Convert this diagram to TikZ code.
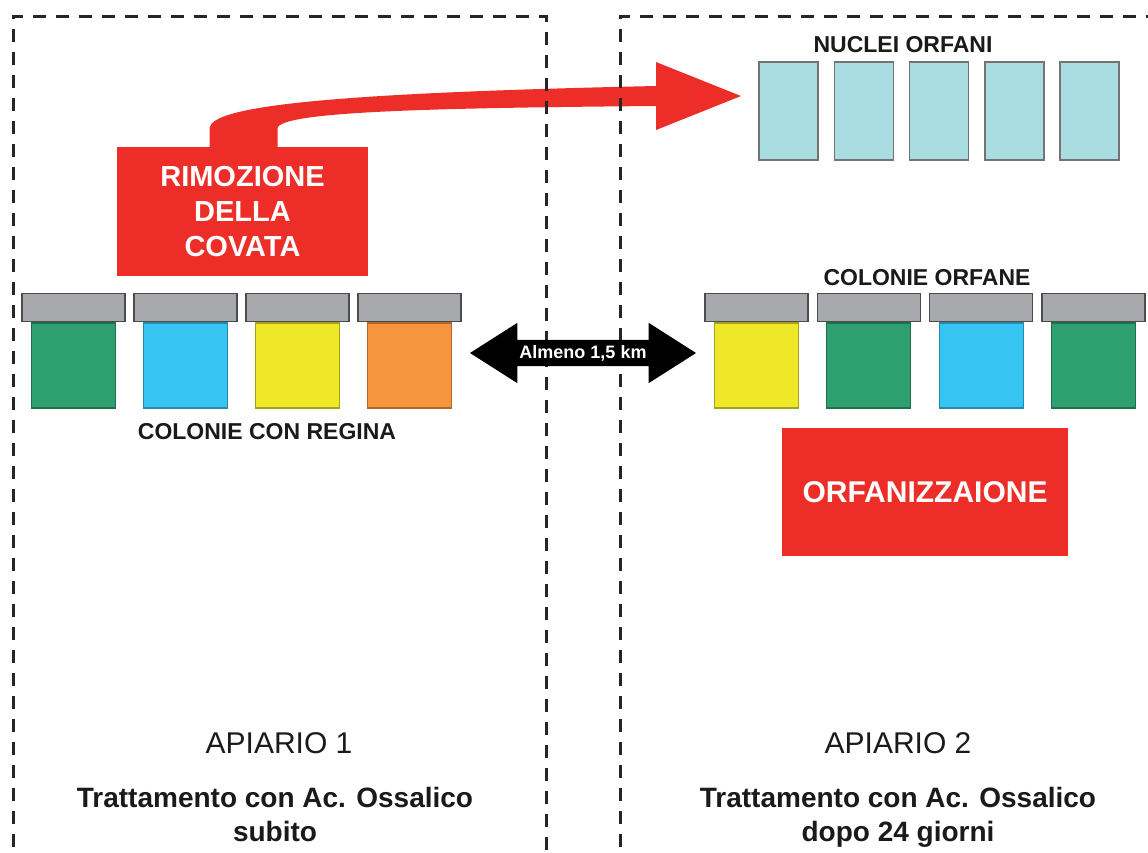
\documentclass[tikz,border=0pt]{standalone}
\usepackage{fontspec}
\setmainfont{Liberation Sans}
\usepackage{tikz}
\usetikzlibrary{positioning,shapes.arrows}
\definecolor{rosso}{RGB}{237,46,40}
\definecolor{verde}{RGB}{46,160,112}
\definecolor{azzurro}{RGB}{56,196,242}
\definecolor{giallo}{RGB}{238,232,40}
\definecolor{arancio}{RGB}{247,148,62}
\definecolor{ciano}{RGB}{170,221,226}
\definecolor{grigio}{RGB}{167,169,172}
\definecolor{testo}{RGB}{26,26,26}

\begin{document}
\begin{tikzpicture}[x=1pt, y=-1pt,
  every node/.style={inner sep=0pt, text=testo, font=\bfseries\fontsize{23}{26}\selectfont},
  lid/.style={draw=black!70, fill=grigio, line width=1.2pt, minimum width=103pt, minimum height=28pt},
  hive/.style={draw=#1!70!black, fill=#1, line width=1.2pt, minimum width=84pt, minimum height=85pt},
  nucleo/.style={draw=black!55, fill=ciano, line width=1.5pt, minimum width=59pt, minimum height=98pt},
  redbox/.style={fill=rosso, text=white, align=center, font=\bfseries\fontsize{29}{35}\selectfont},
  apiary/.style={draw=black!85, line width=3pt, dash pattern=on 13pt off 10pt}
]
\clip (0,0) rectangle (1148,852);

% nuclei and red boxes
\foreach \i in {0,...,4}
  \node[nucleo] (nuc\i) at (788.5+75.3*\i,111) {};
\node (nuclei) at (903,45) {NUCLEI ORFANI};
\node[redbox, minimum width=251pt, minimum height=129pt] (rim) at (242.5,211.5) {RIMOZIONE\\DELLA\\COVATA};
\node[redbox, minimum width=286pt, minimum height=128pt, font=\bfseries\fontsize{30}{36}\selectfont] (orf) at (925,492) {ORFANIZZAIONE};

% red arrow out of the box
\coordinate (tip) at (741,96);
\fill[rosso] ([xshift=-33pt]rim.north) -- (209.5,128) .. controls (212,106) and (330,93) .. (656,86)
  -- (656,62) -- (tip) -- (656,130) -- (656,106) .. controls (420,108) and (282,112) .. (277.5,128)
  -- ([xshift=35pt]rim.north) -- cycle;

% the two apiaries
\draw[apiary] (13,870) -- (13,16) -- (546,16) -- (546,870);
\draw[apiary] (620,870) -- (620,16) -- (1170,16);

% colonies
\foreach \c [count=\i from 0] in {verde,azzurro,giallo,arancio} {
  \node[hive=\c] (hiveA\i) at (73.5+112*\i,365.5) {};
  \node[lid, above=0pt of hiveA\i] (lidA\i) {};
}
\foreach \c [count=\i from 0] in {giallo,verde,azzurro,verde} {
  \node[hive=\c] (hiveB\i) at (756.5+112.3*\i,365.5) {};
  \node[lid, above=0pt of hiveB\i] (lidB\i) {};
}
\node (regina) at (267,432) {COLONIE CON REGINA};
\node (orfane) at (927,278) {COLONIE ORFANE};

\node[double arrow, fill=black, text=white, font=\bfseries\fontsize{18}{20}\selectfont,
  minimum height=226pt, double arrow head extend=17pt, double arrow tip angle=65,
  inner xsep=0pt, inner ysep=5pt, text height=13pt, text depth=3pt] (dist) at (583,353) {Almeno 1,5 km};

% bottom texts
\node[font=\fontsize{30}{34}\selectfont] (api1) at (279,743) {APIARIO 1};
\node[font=\fontsize{30}{34}\selectfont] (api2) at (898,743) {APIARIO 2};
\node[align=center, font=\bfseries\fontsize{28}{34}\selectfont] (tratt1) at (275,814) {Trattamento con Ac. Ossalico\\subito};
\node[align=center, font=\bfseries\fontsize{28}{34}\selectfont] (tratt2) at (898,817) {Trattamento con Ac. Ossalico\\dopo 24 giorni};
\end{tikzpicture}
\end{document}
